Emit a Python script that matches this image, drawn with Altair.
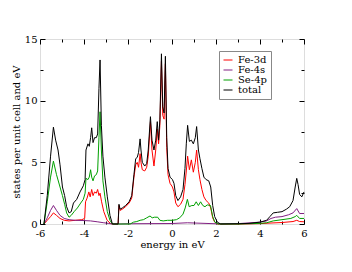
import altair as alt
import pandas as pd

# ---- data ----
series_names = ["Fe-3d", "Fe-4s", "Se-4p", "total"]
series_colors = ["#ff0000", "#822082", "#00a000", "#000000"]

e_total = [-5.82, -5.67, -5.52, -5.39, -5.29, -5.18, -5.09, -4.98, -4.88, -4.79, -4.68, -4.58, -4.48,
           -4.33, -4.18, -4.03, -3.95, -3.91, -3.82, -3.76, -3.70, -3.65, -3.59, -3.52, -3.44, -3.38,
           -3.32, -3.27, -3.21, -3.14, -3.05, -2.94, -2.82, -2.71, -2.45, -2.41, -2.36, -2.26, -2.11,
           -1.95, -1.83, -1.73, -1.65, -1.58, -1.52, -1.45, -1.41, -1.35, -1.24, -1.15, -1.08, -0.98,
           -0.91, -0.82, -0.74, -0.67, -0.61, -0.55, -0.48, -0.42, -0.36, -0.30, -0.24, -0.18, -0.09,
           0.02, 0.09, 0.17, 0.27, 0.39, 0.50, 0.59, 0.65, 0.71, 0.79, 0.88, 0.97, 1.06, 1.12, 1.20,
           1.27, 1.36, 1.45, 1.55, 1.67, 1.76, 1.85, 1.94, 2.06, 2.21, 3.0, 3.5, 4.0, 4.3, 4.45, 4.6,
           4.8, 5.0, 5.2, 5.35, 5.5, 5.6, 5.67, 5.73, 5.8, 5.9, 6.0]
v_total = [0.0, 2.3, 5.5, 7.85, 6.8, 6.0, 4.8, 3.0, 2.3, 1.4, 0.9, 1.0, 1.7,
           2.0, 2.6, 3.1, 3.6, 6.0, 6.5, 6.3, 7.0, 7.8, 6.6, 7.0, 7.0, 7.3,
           11.0, 13.3, 8.0, 5.5, 3.8, 2.2, 0.7, 0.0, 0.0, 1.6, 1.2, 1.3, 1.5,
           1.8, 2.3, 4.0, 5.3, 5.4, 5.8, 6.9, 6.0, 5.0, 4.7, 4.9, 6.0, 8.7,
           6.8, 6.0, 6.8, 8.3, 6.8, 8.5, 13.8, 9.5, 9.0, 13.6, 7.0, 4.5, 3.8,
           3.6, 3.3, 2.3, 1.9, 2.2, 2.8, 4.5, 6.5, 8.0, 6.7, 6.8, 6.5, 7.0, 7.9, 6.0,
           5.3, 4.5, 3.8, 3.6, 3.5, 3.0, 1.5, 0.6, 0.15, 0.0, 0.02, 0.05, 0.15, 0.3, 0.6, 0.9,
           0.95, 1.0, 1.2, 1.4, 1.9, 3.0, 3.7, 3.2, 2.4, 2.2, 2.6]

e_fe3d = [-5.82, -5.67, -5.52, -5.39, -5.25, -5.09, -4.9, -4.68, -4.4, -4.1, -3.97, -3.93, -3.86,
          -3.78, -3.72, -3.65, -3.59, -3.52, -3.44, -3.38, -3.32, -3.27, -3.2, -3.1, -2.95, -2.8,
          -2.71, -2.45, -2.41, -2.36, -2.26, -2.11, -1.95, -1.83, -1.73, -1.65, -1.58, -1.52, -1.45,
          -1.41, -1.35, -1.24, -1.15, -1.08, -0.98, -0.91, -0.82, -0.74, -0.67, -0.61, -0.55, -0.48,
          -0.42, -0.36, -0.30, -0.24, -0.18, -0.09, 0.02, 0.09, 0.17, 0.27, 0.39, 0.5, 0.59, 0.65,
          0.71, 0.79, 0.88, 0.97, 1.06, 1.12, 1.2, 1.27, 1.36, 1.45, 1.55, 1.67, 1.76, 1.85, 1.94,
          2.06, 3.0, 4.0, 4.5, 5.0, 5.5, 5.67, 5.8, 6.0]
v_fe3d = [0.0, 0.3, 0.6, 0.9, 0.7, 0.45, 0.3, 0.25, 0.3, 0.35, 0.45, 1.8, 2.1,
          2.6, 2.2, 2.8, 2.3, 2.6, 2.5, 2.8, 2.3, 2.5, 1.8, 1.0, 0.3, 0.05,
          0.0, 0.0, 1.5, 1.1, 1.2, 1.4, 1.7, 2.1, 3.8, 4.8, 5.0, 4.6, 5.7,
          5.0, 4.4, 4.3, 4.6, 5.5, 8.3, 6.0, 4.7, 6.0, 7.7, 6.5, 8.0, 13.2,
          8.8, 8.5, 13.0, 6.2, 4.0, 3.3, 3.0, 2.6, 1.7, 1.4, 1.6, 2.0, 3.2, 4.3,
          5.5, 4.4, 5.2, 4.2, 5.0, 6.0, 4.4, 3.6, 2.8, 2.2, 1.9, 1.7, 1.3, 0.5, 0.15,
          0.0, 0.0, 0.03, 0.08, 0.12, 0.2, 0.3, 0.2, 0.18]

e_fe4s = [-5.82, -5.67, -5.52, -5.39, -5.25, -5.09, -4.9, -4.68, -4.4, -4.0, -3.7, -3.4, -3.1,
          -2.9, -2.71, -2.45, -2.0, -1.0, 0.0, 0.7, 1.0, 1.5, 2.0, 3.0, 4.0, 4.3, 4.5, 4.7, 5.0,
          5.3, 5.5, 5.67, 5.8, 6.0]
v_fe4s = [0.0, 0.5, 1.1, 1.5, 1.1, 0.7, 0.45, 0.35, 0.3, 0.28, 0.25, 0.18, 0.1,
          0.05, 0.0, 0.0, 0.02, 0.03, 0.04, 0.1, 0.08, 0.05, 0.02, 0.03, 0.15, 0.25, 0.45, 0.55, 0.6,
          0.75, 0.9, 1.25, 0.85, 0.85]

e_se4p = [-5.82, -5.67, -5.52, -5.39, -5.25, -5.09, -4.98, -4.88, -4.79, -4.68, -4.58, -4.45, -4.3,
          -4.15, -4.03, -3.95, -3.91, -3.82, -3.76, -3.70, -3.65, -3.59, -3.52, -3.44, -3.38, -3.32,
          -3.27, -3.21, -3.14, -3.05, -2.94, -2.82, -2.71, -1.9, -1.75, -1.6, -1.45, -1.3, -1.15,
          -1.0, -0.9, -0.8, -0.65, -0.55, -0.4, -0.2, 0.0, 0.2, 0.35, 0.5, 0.6, 0.7, 0.78, 0.9,
          1.0, 1.1, 1.2, 1.3, 1.4, 1.5, 1.6, 1.75, 1.85, 1.95, 2.1, 3.0, 4.0, 4.3, 4.6, 5.0, 5.4,
          5.6, 5.67, 5.8, 6.0]
v_se4p = [0.0, 1.8, 3.8, 5.1, 4.0, 3.0, 2.3, 1.6, 0.9, 0.55, 0.7, 1.0, 1.3,
          1.7, 2.0, 2.5, 3.7, 3.6, 3.8, 4.4, 3.8, 3.5, 3.9, 4.0, 4.3, 7.0,
          9.1, 6.0, 3.5, 2.2, 1.0, 0.3, 0.0, 0.0, 0.15, 0.2, 0.3, 0.35, 0.5,
          0.65, 0.5, 0.55, 0.55, 0.3, 0.25, 0.3, 0.3, 0.35, 0.5, 0.8, 1.3, 2.0, 1.4, 1.5,
          1.5, 1.8, 1.5, 1.8, 1.5, 1.4, 1.55, 1.5, 0.6, 0.15, 0.0, 0.0, 0.05, 0.1, 0.25, 0.35, 0.45,
          0.6, 0.7, 0.45, 0.45]

x_major = [-6, -4, -2, 0, 2, 4, 6]
x_minor = [-5, -3, -1, 1, 3, 5]
y_major = [0, 5, 10, 15]
y_minor = [2.5, 7.5, 12.5]

# ---- build table ----
frames = []
for name, es, vs in [("Fe-3d", e_fe3d, v_fe3d), ("Fe-4s", e_fe4s, v_fe4s),
                     ("Se-4p", e_se4p, v_se4p), ("total", e_total, v_total)]:
    frames.append(pd.DataFrame({"energy": es, "dos": vs, "series": name}))
df = pd.concat(frames, ignore_index=True)
df["ord"] = range(len(df))

FONT = "DejaVu Serif"
FS = 10
xs = alt.Scale(domain=[-6, 6], nice=False, zero=False)
ys = alt.Scale(domain=[0, 15], nice=False, zero=False)
minus_expr = "datum.value < 0 ? '-' + abs(datum.value) : '' + datum.value"


def xaxis(orient, values, size, labels=False, title=None):
    kw = dict(orient=orient, values=values, tickSize=size, offset=-size, domain=False,
              grid=False, tickColor="black", labels=labels)
    if labels:
        kw.update(labelFont=FONT, labelFontSize=FS, labelColor="black", labelPadding=4,
                  labelFlush=False, labelExpr=minus_expr)
    if title:
        kw.update(title=title, titleFont=FONT, titleFontSize=FS, titleFontWeight="normal",
                  titleColor="black", titleY=20, titleBaseline="top")
    else:
        kw.update(title=None)
    return alt.Axis(**kw)


def yaxis(orient, values, size, labels=False, title=None):
    kw = dict(orient=orient, values=values, tickSize=size, offset=-size, domain=False,
              grid=False, tickColor="black", labels=labels)
    if labels:
        kw.update(labelFont=FONT, labelFontSize=FS, labelColor="black", labelPadding=3)
    if title:
        kw.update(title=title, titleFont=FONT, titleFontSize=FS, titleFontWeight="normal",
                  titleColor="black", titlePadding=3)
    else:
        kw.update(title=None)
    return alt.Axis(**kw)


lines = alt.Chart(df).mark_line(strokeWidth=1).encode(
    x=alt.X("energy:Q", scale=xs, axis=xaxis("bottom", x_major, 5, True, "energy in eV")),
    y=alt.Y("dos:Q", scale=ys, axis=yaxis("left", y_major, 5, True, "states per unit cell and eV")),
    color=alt.Color("series:N", scale=alt.Scale(domain=series_names, range=series_colors),
                    legend=alt.Legend(title=None, orient="none", legendX=179, legendY=12,
                                      symbolType="stroke", symbolSize=81, symbolStrokeWidth=1,
                                      labelFont=FONT, labelFontSize=FS, labelColor="black",
                                      labelOffset=5, rowPadding=0, padding=4,
                                      strokeColor="#888888", fillColor="white")),
    order=alt.Order("ord:Q"),
)


def ghost(xo, xv, xsz, yo, yv, ysz):
    return alt.Chart(df).mark_line(opacity=0).encode(
        x=alt.X("energy:Q", scale=xs, axis=xaxis(xo, xv, xsz)),
        y=alt.Y("dos:Q", scale=ys, axis=yaxis(yo, yv, ysz)),
        detail="series:N",
    )


chart = alt.layer(
    lines,
    ghost("top", x_major, 5, "right", y_major, 5),
    ghost("bottom", x_minor, 3, "left", y_minor, 3),
    ghost("top", x_minor, 3, "right", y_minor, 3),
).resolve_axis(x="independent", y="independent").properties(
    width=264, height=185,
    autosize=alt.AutoSizeParams(type="none"),
    padding={"left": 32, "top": 31, "right": 40, "bottom": 48},
).configure_view(stroke="black", strokeWidth=1).configure(
    background="white", font=FONT
).configure_axis(labelFont=FONT, titleFont=FONT, titleFontWeight="normal").configure_legend(
    labelFont=FONT
)

chart.save("out.html", embed_options={"renderer": "svg", "actions": False})
